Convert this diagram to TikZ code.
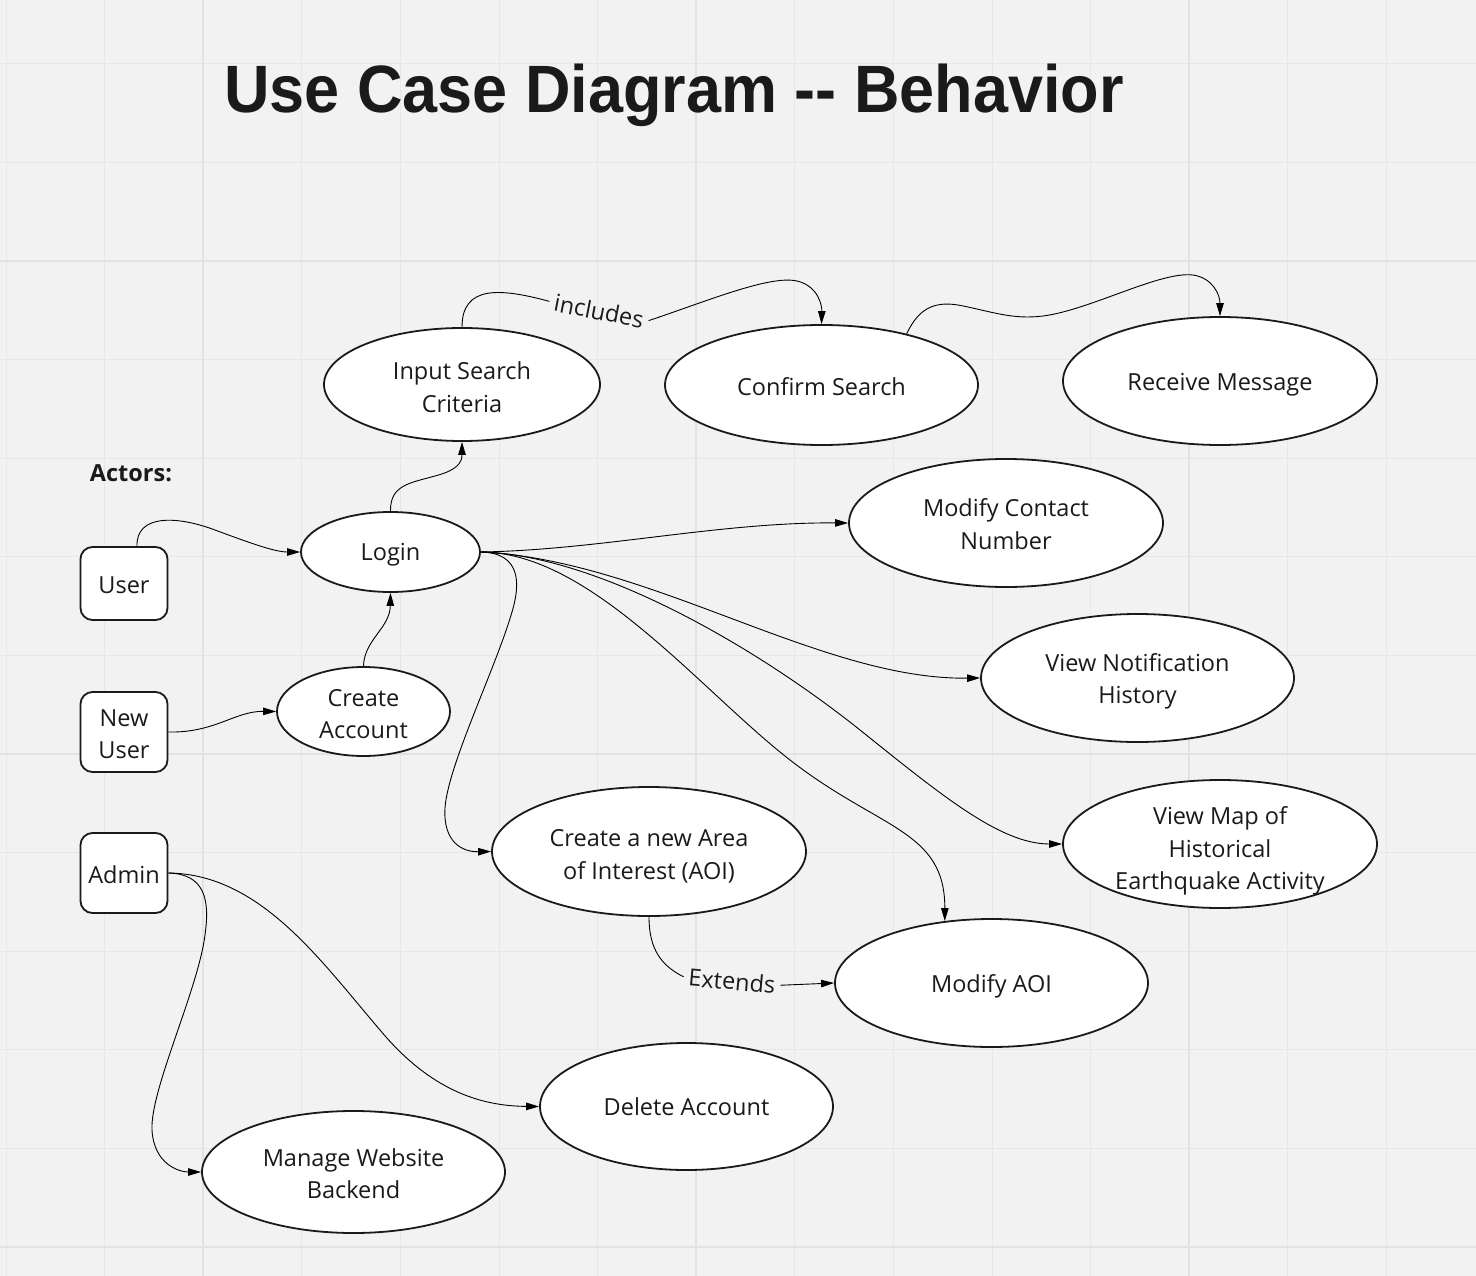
\documentclass[tikz,border=0pt]{standalone}
\usepackage{fontspec}
\setmainfont{Open Sans}
\newfontfamily\titlefont{Liberation Sans}
\usetikzlibrary{shapes.geometric,arrows.meta}
\definecolor{bgc}{HTML}{F2F2F2}
\definecolor{gridc}{HTML}{E7E7E7}
\definecolor{gridm}{HTML}{E2E2E2}
\definecolor{ink}{HTML}{1A1A1A}
\begin{document}
\begin{tikzpicture}[x=1pt,y=-1pt,
  uc/.style={draw=ink,line width=1.8pt,fill=white,ellipse,inner sep=0pt},
  actor/.style={draw=ink,line width=1.8pt,fill=white,rounded corners=12pt,minimum width=87pt,inner sep=0pt},
  lbl/.style={align=center,text=ink,font=\fontsize{23.5}{32.5}\selectfont},
  conn/.style={draw=black,line width=0.9pt},
  arr/.style={conn,-{Triangle[length=13pt,width=7.5pt]}}]
\useasboundingbox (0,0) rectangle (1476,1276);
\fill[bgc] (0,0) rectangle (1476,1276);
% grid
\foreach \i in {0,...,14}{
  \pgfmathsetmacro\xx{6+98.6*\i}
  \draw[gridc,line width=1pt] (\xx,0) -- (\xx,1276);
}
\foreach \j in {0,...,12}{
  \pgfmathsetmacro\yy{63.8+98.6*\j}
  \draw[gridc,line width=1pt] (0,\yy) -- (1476,\yy);
}
\foreach \xx in {203.2,696.2,1189.2}{\draw[gridm,line width=2pt] (\xx,0) -- (\xx,1276);}
\foreach \yy in {261,754,1247}{\draw[gridm,line width=2pt] (0,\yy) -- (1476,\yy);}

% title
\node[anchor=base west,inner sep=0pt,text=ink,xscale=0.94,
  font=\titlefont\bfseries\fontsize{67}{80}\selectfont] (title) at (224,113)
  {Use Case Diagram \mbox{-}\mbox{-} Behavior};
\node[lbl,font=\fontsize{23.5}{30}\selectfont\bfseries] (actors) at (131,473) {Actors:};

% actors
\node[actor,minimum height=73pt] (user) at (124,583.5) {};
\node[actor,minimum height=80pt] (nu) at (124,732) {};
\node[actor,minimum height=80pt] (admin) at (124,873) {};
\node[lbl] (tuser) at (124,585.5) {User};
\node[lbl] (tnu) at (124,734) {New\\User};
\node[lbl] (tadmin) at (124,875) {Admin};

% use cases
\node[uc,minimum width=276pt,minimum height=113pt] (isc) at (462,384.5) {};
\node[uc,minimum width=313pt,minimum height=120pt] (cs) at (821.5,385) {};
\node[uc,minimum width=314pt,minimum height=128pt] (rm) at (1220,381) {};
\node[uc,minimum width=314pt,minimum height=128pt] (mcn) at (1006,523) {};
\node[uc,minimum width=179pt,minimum height=80pt] (login) at (390.5,552) {};
\node[uc,minimum width=313pt,minimum height=128pt] (vnh) at (1137.5,678) {};
\node[uc,minimum width=173pt,minimum height=89pt] (ca) at (363.5,711.5) {};
\node[uc,minimum width=314pt,minimum height=129pt] (caoi) at (649,851.5) {};
\node[uc,minimum width=314pt,minimum height=128pt] (vm) at (1220,844) {};
\node[uc,minimum width=313pt,minimum height=128pt] (mao) at (991.5,983) {};
\node[uc,minimum width=293pt,minimum height=127pt] (dacc) at (686.5,1106.5) {};
\node[uc,minimum width=303pt,minimum height=122pt] (mwb) at (353.5,1172) {};

\node[lbl] (tisc) at (462,387) {Input Search\\Criteria};
\node[lbl] (tcs) at (821.5,387) {Confirm Search};
\node[lbl] (trm) at (1220,385) {Receive Message};
\node[lbl] (tmcn) at (1006,524) {Modify Contact\\Number};
\node[lbl] (tlogin) at (390.5,555) {Login};
\node[lbl] (tvnh) at (1137.5,681.5) {View Notification\\History};
\node[lbl] (tca) at (363.5,714) {Create\\Account};
\node[lbl] (tcaoi) at (649,856.5) {Create a new Area\\of Interest (AOI)};
\node[lbl] (tvm) at (1220,851) {View Map of\\Historical\\Earthquake Activity};
\node[lbl] (tmao) at (991.5,986) {Modify AOI};
\node[lbl] (tdacc) at (686.5,1107) {Delete Account};
\node[lbl] (tmwb) at (353.5,1173.5) {Manage Website\\Backend};

% edge labels
\node[lbl,rotate=-11,inner sep=5pt] (inc) at (599,311) {includes};
\node[lbl,rotate=-5,inner sep=5pt] (ext) at (732,981) {Extends};

% connectors
\draw[conn] (isc.north) .. controls (462,285) and (500,288) .. (inc.west);
\draw[arr] (inc.east) .. controls (710,300) and (770,275) .. (797,281) .. controls (818,286) and (822,305) .. (cs.north);
\draw[arr] (cs.31) .. controls (920,305) and (938,302) .. (958,305) .. controls (990,311) and (1012,320) .. (1043,316) .. controls (1090,310) and (1160,271) .. (1193,275) .. controls (1213,278) and (1220,295) .. (rm.north);
\draw[arr] (login.north) .. controls (390,485) and (410,483) .. (435,476) .. controls (458,470) and (462,462) .. (isc.south);
\draw[arr] ([xshift=13pt]user.north) .. controls (136,515) and (175,515) .. (215,530) .. controls (250,543) and (275,552) .. (login.west);
\draw[arr] (ca.north) .. controls (364,640) and (390,628) .. (login.south);
\draw[arr] (nu.east) .. controls (215,733) and (235,711) .. (ca.west);
\draw[arr] (login.east) .. controls (600,550) and (720,522) .. (mcn.west);
\draw[arr] (login.east) .. controls (650,560) and (820,680) .. (vnh.west);
\draw[arr] (login.east) .. controls (600,555) and (760,650) .. (860,730) .. controls (940,794) and (1000,844) .. (vm.west);
\draw[arr] (login.east) .. controls (590,552) and (700,690) .. (790,760) .. controls (880,830) and (945,830) .. (mao.127);
\draw[arr] (login.east) .. controls (520,553) and (521,582) .. (512,612) .. controls (495,670) and (448,765) .. (445,808) .. controls (443,842) and (462,852) .. (caoi.west);
\draw[conn] (caoi.south) .. controls (649,950) and (662,966) .. (ext.west);
\draw[arr] (ext.east) -- (mao.west);
\draw[arr] (admin.east) .. controls (260,874) and (320,960) .. (380,1030) .. controls (430,1090) and (480,1106) .. (dacc.west);
\draw[arr] (admin.east) .. controls (205,874) and (210,900) .. (205,935) .. controls (198,990) and (150,1090) .. (152,1130) .. controls (154,1165) and (180,1172) .. (mwb.west);
\end{tikzpicture}
\end{document}
